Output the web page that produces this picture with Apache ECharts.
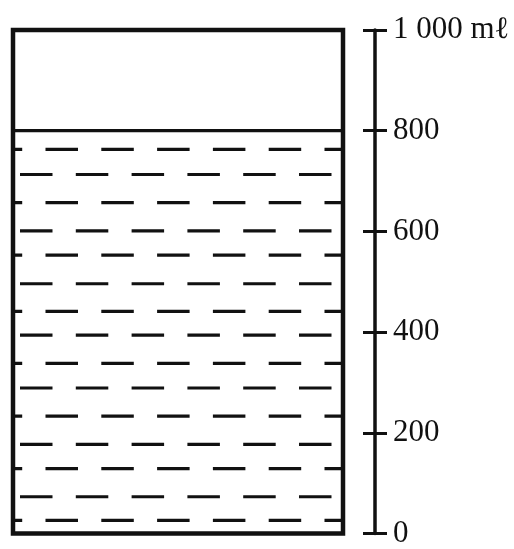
<!DOCTYPE html>
<html>
<head>
<meta charset="utf-8">
<script src="https://cdn.jsdelivr.net/npm/echarts@6/dist/echarts.min.js"></script>
<style>
  html, body { margin: 0; padding: 0; background: #fff; }
  #chart { width: 514px; height: 549px; }
</style>
</head>
<body>
<div id="chart"></div>
<script>
// scale of the measuring jug, ml
var tickValues = [0, 200, 400, 600, 800, 1000];
var capacity = 1000;
var waterLevel = 800;
// heights (ml) of the dashed rows drawn inside the water
var dashRows = [763, 713, 657, 601, 553, 496, 441, 394, 338, 289, 233, 177, 129, 73, 26];

var jugWidth = 330; // in x-axis units (= px)
var ink = '#111';
var serif = '"Liberation Serif", "DejaVu Serif", serif';

var myChart = echarts.init(document.getElementById('chart'));

option = {
    backgroundColor: '#fff',
    animation: false,
    grid: { left: 13, right: 139, top: 30, bottom: 12 },
    xAxis: { type: 'value', min: 0, max: 362, show: false },
    yAxis: [
        {
            type: 'value',
            position: 'right',
            min: tickValues[0],
            max: tickValues[tickValues.length - 1],
            interval: 200,
            splitLine: { show: false },
            axisLine: { show: true, onZero: false, lineStyle: { color: ink, width: 3.5 } },
            axisTick: { show: true, inside: false, length: 12, lineStyle: { color: ink, width: 3 } },
            axisLabel: {
                margin: 18,
                color: ink,
                fontFamily: serif,
                fontSize: 31,
                formatter: function (v) {
                    return v === capacity ? '1 000 mℓ' : String(v);
                }
            }
        },
        {
            type: 'value',
            position: 'right',
            min: tickValues[0],
            max: tickValues[tickValues.length - 1],
            interval: 200,
            splitLine: { show: false },
            axisLine: { show: false, onZero: false },
            axisTick: { show: true, inside: true, length: 12, lineStyle: { color: ink, width: 3 } },
            axisLabel: { show: false }
        }
    ],
    series: [
        {
            // dashed water rows
            type: 'custom',
            name: 'water',
            coordinateSystem: 'cartesian2d',
            data: dashRows.map(function (v, i) { return [i, v]; }),
            renderItem: function (params, api) {
                var a = api.coord([0, api.value(1)]);
                var b = api.coord([jugWidth, api.value(1)]);
                var even = params.dataIndex % 2 === 0;
                return {
                    type: 'line',
                    shape: { x1: a[0], y1: a[1], x2: b[0], y2: b[1] },
                    style: {
                        stroke: ink,
                        lineWidth: 3.2,
                        lineDash: [32.5, 23.3],
                        lineDashOffset: even ? 23.3 : 48.8
                    }
                };
            }
        },
        {
            // jug outline and water surface
            type: 'custom',
            name: 'jug',
            coordinateSystem: 'cartesian2d',
            data: [[capacity, waterLevel]],
            renderItem: function (params, api) {
                var tl = api.coord([0, api.value(0)]);
                var br = api.coord([jugWidth, 0]);
                var wl = api.coord([0, api.value(1)]);
                var wr = api.coord([jugWidth, api.value(1)]);
                return {
                    type: 'group',
                    children: [
                        {
                            type: 'rect',
                            shape: { x: tl[0], y: tl[1], width: br[0] - tl[0], height: br[1] - tl[1] },
                            style: { fill: null, stroke: ink, lineWidth: 4.5 }
                        },
                        {
                            type: 'line',
                            shape: { x1: wl[0], y1: wl[1], x2: wr[0], y2: wr[1] },
                            style: { stroke: ink, lineWidth: 3.2 }
                        }
                    ]
                };
            }
        }
    ]
};

myChart.setOption(option);
</script>
</body>
</html>
